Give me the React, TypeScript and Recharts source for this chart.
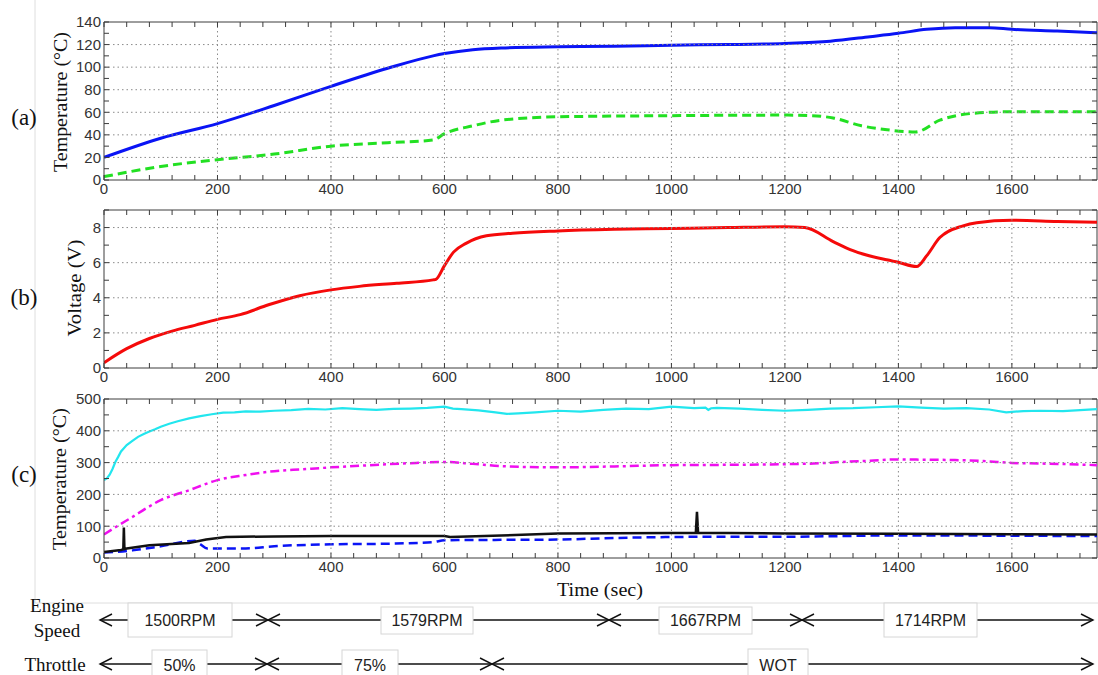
import { Line, LineChart, ReferenceLine, XAxis, YAxis } from 'recharts'

// time axis
const xMajor = [0, 200, 400, 600, 800, 1000, 1200, 1400, 1600]
const xMinor = Array.from({ length: 44 }, (_, i) => i * 40)

// (a) temperatures
const hotTime = [0, 100, 200, 300, 400, 500, 580, 600, 650, 700, 800, 900, 1000, 1100, 1200, 1280, 1350, 1400, 1450, 1500, 1560, 1600, 1680, 1750]
const hotTemp = [20, 37, 50, 66, 83, 99, 110, 112, 115.5, 117, 118, 118.5, 119.5, 120, 121, 123, 127, 130, 133.5, 135, 135, 133.5, 132, 130.5]
const coldTime = [0, 100, 200, 300, 400, 500, 580, 600, 650, 700, 800, 1000, 1200, 1245, 1285, 1335, 1380, 1430, 1473, 1530, 1600, 1750]
const coldTemp = [3, 12, 18, 23, 30, 33, 35.5, 41, 48, 53, 56, 57, 57.5, 57, 55, 48, 44.5, 42.5, 53, 59, 60.5, 60.5]

// (b) voltage
const voltTime = [0, 40, 80, 120, 160, 200, 240, 290, 345, 400, 450, 516, 580, 585, 600, 616, 638, 674, 720, 800, 900, 1000, 1100, 1200, 1235, 1285, 1320, 1400, 1432, 1450, 1473, 1514, 1538, 1600, 1680, 1750]
const voltage = [0.3, 1.1, 1.68, 2.1, 2.43, 2.77, 3.04, 3.6, 4.12, 4.45, 4.65, 4.83, 5.02, 5.05, 5.83, 6.6, 7.1, 7.53, 7.68, 7.81, 7.9, 7.95, 8.0, 8.04, 8.0, 7.2, 6.68, 6.02, 5.78, 6.4, 7.43, 8.1, 8.28, 8.42, 8.35, 8.3]

// (c) temperatures
const exhTime = [0, 5, 10, 15, 20, 25, 30, 35, 40, 50, 60, 70, 80, 90, 100, 115, 130, 150, 170, 190, 210, 230, 250, 275, 300, 330, 360, 390, 420, 450, 480, 510, 540, 570, 600, 615, 630, 660, 690, 710, 730, 760, 800, 840, 880, 920, 960, 1000, 1040, 1060, 1065, 1070, 1080, 1120, 1160, 1200, 1240, 1280, 1320, 1360, 1400, 1440, 1480, 1520, 1560, 1590, 1620, 1650, 1690, 1720, 1750]
const exhTemp = [245, 250, 262, 280, 302, 318, 335, 345, 355, 368, 381, 390, 398, 405, 413, 422, 430, 439, 446, 452, 457, 458, 461, 460, 463, 465, 469, 467, 471, 468, 466, 469, 470, 472, 476, 470, 468, 464, 458, 453, 455, 458, 463, 460, 466, 470, 468, 476, 471, 473, 466, 471, 472, 470, 466, 463, 466, 470, 471, 474, 477, 473, 470, 471, 467, 458, 462, 463, 462, 465, 468]
const midTime = [0, 25, 50, 75, 100, 125, 150, 175, 200, 250, 300, 350, 400, 450, 500, 550, 600, 650, 700, 800, 900, 1000, 1100, 1200, 1250, 1300, 1350, 1400, 1450, 1500, 1550, 1600, 1650, 1700, 1750]
const midTemp = [74, 102, 129, 157, 182, 199, 213, 230, 245, 261, 273, 279, 285, 290, 295, 299, 302, 296, 289, 285, 288, 292, 293, 295, 297, 302, 306, 310, 309, 308, 305, 299, 297, 295, 292]
const blackTime = [0, 30, 34, 35, 36, 40, 80, 150, 180, 215, 300, 400, 600, 610, 700, 800, 1000, 1043, 1045, 1047, 1100, 1200, 1400, 1600, 1750]
const blackTemp = [19, 25, 27, 96, 28, 30, 40, 47, 58, 66, 68, 69, 69, 66, 71, 77, 79, 79, 145, 79, 79, 77, 76, 75, 74]
const lowTime = [0, 50, 100, 160, 170, 182, 250, 300, 400, 500, 580, 600, 700, 800, 900, 1000, 1100, 1200, 1400, 1600, 1750]
const lowTemp = [17, 24, 37, 54, 43, 30, 30, 37, 43, 45, 50, 56, 57, 58, 63, 66, 67, 67, 71, 70, 69]

const speedLabels = ['1500RPM', '1579RPM', '1667RPM', '1714RPM']
const throttleLabels = ['50%', '75%', 'WOT']

const pts = (t: number[], v: number[]) => t.map((x, i) => ({ t: x, v: v[i] }))

const SANS = 'Liberation Sans, Arial, sans-serif'
const SERIF = 'Liberation Serif, Times New Roman, serif'
const FRAME = '#3c3c3c'
const GRID = '#8a8a8a'
const PLOT_W = 993
const TICK_LEN = 5

// bottom axis tick: inward marks at bottom and top, dotted grid + label on majors
const makeXTick = (plotH: number) => (props: any) => {
  const { x, y, payload } = props
  const bottom = y - 3
  const top = bottom - plotH
  const major = xMajor.includes(payload.value)
  return (
    <g>
      {major && payload.value > 0 && <line x1={x} y1={top} x2={x} y2={bottom} stroke={GRID} strokeDasharray="1.5 3" />}
      <line x1={x} y1={bottom} x2={x} y2={bottom - TICK_LEN} stroke={FRAME} />
      <line x1={x} y1={top} x2={x} y2={top + TICK_LEN} stroke={FRAME} />
      {major && (
        <text x={x} y={y} dy="0.71em" textAnchor="middle" fontFamily={SANS} fontSize={15} fill="#333">
          {payload.value}
        </text>
      )}
    </g>
  )
}

// left axis tick: inward marks at left and right, dotted grid + label on majors
const makeYTick = (yMajor: number[], yMax: number) => (props: any) => {
  const { x, y, payload } = props
  const left = x + 3
  const right = left + PLOT_W
  const major = yMajor.includes(payload.value)
  return (
    <g>
      {major && payload.value > 0 && payload.value < yMax && (
        <line x1={left} y1={y} x2={right} y2={y} stroke={GRID} strokeDasharray="1.5 3" />
      )}
      <line x1={left} y1={y} x2={left + TICK_LEN} y2={y} stroke={FRAME} />
      <line x1={right} y1={y} x2={right - TICK_LEN} y2={y} stroke={FRAME} />
      {major && (
        <text x={x} y={y} dy="0.355em" textAnchor="end" fontFamily={SANS} fontSize={15} fill="#333">
          {payload.value}
        </text>
      )}
    </g>
  )
}

interface SeriesDef {
  data: { t: number; v: number }[]
  color: string
  width: number
  dash?: string
  linear?: boolean
}

interface PanelProps {
  top: number
  height: number
  marginTop: number
  xHeight: number
  yDomain: [number, number]
  yMajor: number[]
  yMinor: number[]
  series: SeriesDef[]
}

const Panel = ({ top, height, marginTop, xHeight, yDomain, yMajor, yMinor, series }: PanelProps) => {
  const plotH = height - marginTop - xHeight
  return (
    <div style={{ position: 'absolute', left: 0, top }}>
      <LineChart width={1098} height={height} margin={{ top: marginTop, right: 1, bottom: 0, left: 0 }}>
        <XAxis
          dataKey="t"
          type="number"
          domain={[0, 1750]}
          ticks={xMinor}
          interval={0}
          allowDataOverflow
          height={xHeight}
          tickLine={false}
          tickSize={1}
          tickMargin={2}
          axisLine={{ stroke: FRAME }}
          tick={makeXTick(plotH)}
        />
        <YAxis
          type="number"
          domain={yDomain}
          ticks={yMinor}
          interval={0}
          allowDataOverflow
          width={104}
          tickLine={false}
          tickSize={1}
          tickMargin={2}
          axisLine={{ stroke: FRAME }}
          tick={makeYTick(yMajor, yDomain[1])}
        />
        <ReferenceLine y={yDomain[1]} stroke={FRAME} />
        <ReferenceLine x={1750} stroke={FRAME} />
        {series.map((s, i) => (
          <Line
            key={i}
            data={s.data}
            dataKey="v"
            type={s.linear ? 'linear' : 'monotone'}
            stroke={s.color}
            strokeWidth={s.width}
            strokeDasharray={s.dash}
            dot={false}
            activeDot={false}
            isAnimationActive={false}
          />
        ))}
      </LineChart>
    </div>
  )
}

// annotation layout (px)
const speedStops = [100, 268, 609, 802, 1093]
const speedBoxes = [
  [128, 232, 603, 637],
  [381, 473, 607, 634],
  [659, 752, 607, 634],
  [884, 977, 603, 637],
]
const throttleStops = [100, 267, 492, 1093]
const throttleBoxes = [
  [152, 207, 650, 676],
  [342, 398, 650, 676],
  [748, 808, 649, 676],
]

const Arrow = ({ x1, x2, y }: { x1: number; x2: number; y: number }) => (
  <g stroke="#111" strokeWidth={1.4} fill="none">
    <line x1={x1} y1={y} x2={x2} y2={y} />
    <polyline points={`${x1 + 12},${y - 6} ${x1},${y} ${x1 + 12},${y + 6}`} />
    <polyline points={`${x2 - 12},${y - 6} ${x2},${y} ${x2 - 12},${y + 6}`} />
  </g>
)

const Row = ({ stops, boxes, labels, y, ty }: { stops: number[]; boxes: number[][]; labels: string[]; y: number; ty: number }) => (
  <g>
    {labels.map((l, i) => (
      <Arrow key={`a${i}`} x1={stops[i]} x2={stops[i + 1]} y={y} />
    ))}
    {labels.map((l, i) => {
      const [bx1, bx2, by1, by2] = boxes[i]
      return (
        <g key={`b${i}`}>
          <rect x={bx1} y={by1} width={bx2 - bx1} height={by2 - by1} fill="#fff" stroke="#d6d6d6" />
          <text x={(bx1 + bx2) / 2} y={ty} textAnchor="middle" dominantBaseline="central" fontFamily={SANS} fontSize={16} fill="#222">
            {l}
          </text>
        </g>
      )
    })}
  </g>
)

export default function App() {
  return (
    <div style={{ position: 'absolute', left: 0, top: 0, width: 1098, height: 675, background: '#fff', overflow: 'hidden' }}>
      <svg width={1098} height={675} style={{ position: 'absolute', left: 0, top: 0 }}>
        <line x1={35} y1={0} x2={35} y2={603} stroke="#dedede" />
        <line x1={35} y1={603} x2={1098} y2={603} stroke="#dedede" />
      </svg>
      <Panel
        top={0}
        height={200}
        marginTop={22}
        xHeight={20}
        yDomain={[0, 140]}
        yMajor={[0, 20, 40, 60, 80, 100, 120, 140]}
        yMinor={[0, 10, 20, 30, 40, 50, 60, 70, 80, 90, 100, 110, 120, 130, 140]}
        series={[
          { data: pts(hotTime, hotTemp), color: '#0a14f5', width: 3 },
          { data: pts(coldTime, coldTemp), color: '#22e022', width: 3, dash: '9 5' },
        ]}
      />
      <Panel
        top={200}
        height={190}
        marginTop={10}
        xHeight={22}
        yDomain={[0, 9]}
        yMajor={[0, 2, 4, 6, 8]}
        yMinor={[0, 1, 2, 3, 4, 5, 6, 7, 8, 9]}
        series={[{ data: pts(voltTime, voltage), color: '#f50a0a', width: 3 }]}
      />
      <Panel
        top={389}
        height={189}
        marginTop={10}
        xHeight={20}
        yDomain={[0, 500]}
        yMajor={[0, 100, 200, 300, 400, 500]}
        yMinor={[0, 50, 100, 150, 200, 250, 300, 350, 400, 450, 500]}
        series={[
          { data: pts(exhTime, exhTemp), color: '#22e6ee', width: 2.2, linear: true },
          { data: pts(midTime, midTemp), color: '#f00ff0', width: 2.5, dash: '9 4 3 4' },
          { data: pts(lowTime, lowTemp), color: '#0a14f5', width: 2.5, dash: '9 5' },
          { data: pts(blackTime, blackTemp), color: '#111', width: 2.5, linear: true },
        ]}
      />
      <svg width={1098} height={675} style={{ position: 'absolute', left: 0, top: 0, pointerEvents: 'none' }}>
        <g fontFamily={SERIF} fill="#111">
          <text x={24} y={117} fontSize={23} textAnchor="middle" dominantBaseline="central">(a)</text>
          <text x={24} y={297} fontSize={23} textAnchor="middle" dominantBaseline="central">(b)</text>
          <text x={24} y={474} fontSize={23} textAnchor="middle" dominantBaseline="central">(c)</text>
          <text transform="translate(61,102) rotate(-90)" fontSize={18} textAnchor="middle" dominantBaseline="central" textLength={140} lengthAdjust="spacingAndGlyphs">
            Temperature (°C)
          </text>
          <text transform="translate(75,288) rotate(-90)" fontSize={18} textAnchor="middle" dominantBaseline="central" textLength={97} lengthAdjust="spacingAndGlyphs">
            Voltage (V)
          </text>
          <text transform="translate(60,479) rotate(-90)" fontSize={18} textAnchor="middle" dominantBaseline="central" textLength={142} lengthAdjust="spacingAndGlyphs">
            Temperature (°C)
          </text>
          <text x={600} y={589} fontSize={19} textAnchor="middle" dominantBaseline="central" textLength={86} lengthAdjust="spacingAndGlyphs">
            Time (sec)
          </text>
          <text x={57} y={605} fontSize={19} textAnchor="middle" dominantBaseline="central">Engine</text>
          <text x={57} y={630} fontSize={19} textAnchor="middle" dominantBaseline="central">Speed</text>
          <text x={55} y={664} fontSize={19} textAnchor="middle" dominantBaseline="central">Throttle</text>
        </g>
        <Row stops={speedStops} boxes={speedBoxes} labels={speedLabels} y={620} ty={620} />
        <Row stops={throttleStops} boxes={throttleBoxes} labels={throttleLabels} y={664} ty={665} />
      </svg>
    </div>
  )
}
